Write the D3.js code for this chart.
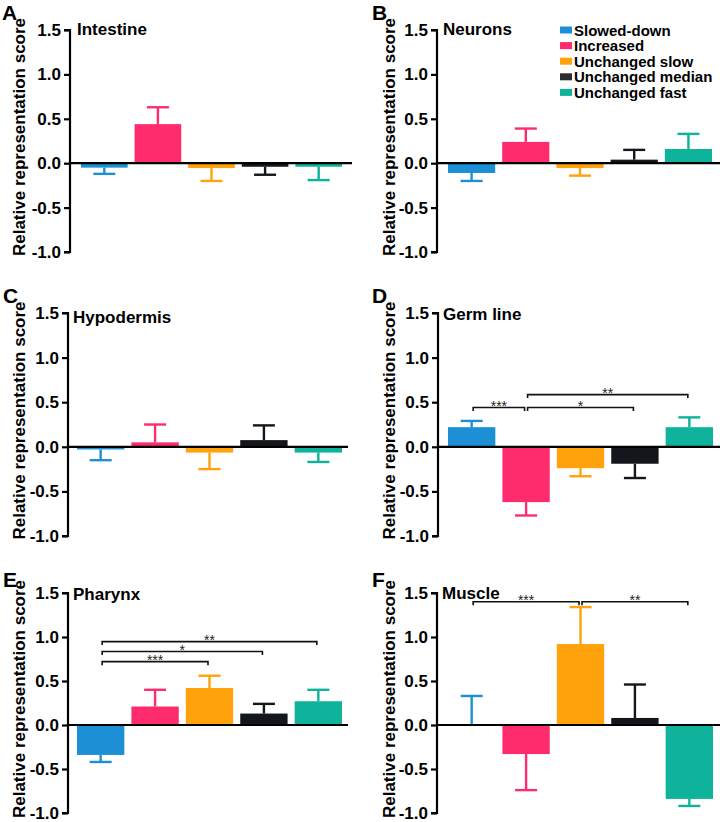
<!DOCTYPE html>
<html><head><meta charset="utf-8">
<script src="https://cdn.jsdelivr.net/npm/d3@7"></script>
<style>body{margin:0;background:#fff}svg{display:block}text{font-family:"Liberation Sans",Arial,Helvetica,sans-serif}</style>
</head><body>
<script>
const categories = ["Slowed-down","Increased","Unchanged slow","Unchanged median","Unchanged fast"];
const colors = ["#1c8fd5","#fe2c6c","#ffa20c","#13161b","#0fb39b"];
const legendColors = ["#1c8fd5","#fe2c6c","#ffa20c","#2a2c32","#0fb39b"];
const yTicks = [1.5, 1.0, 0.5, 0.0, -0.5, -1.0];
const panelLetters = ["A","B","C","D","E","F"];
const panelTitles = ["Intestine","Neurons","Hypodermis","Germ line","Pharynx","Muscle"];
const intestineValues = [-0.05, 0.44, -0.055, -0.04, -0.04];
const intestineErrors = [0.07, 0.19, 0.145, 0.09, 0.15];
const neuronsValues = [-0.11, 0.24, -0.055, 0.04, 0.16];
const neuronsErrors = [0.09, 0.15, 0.085, 0.11, 0.17];
const hypodermisValues = [-0.03, 0.05, -0.065, 0.075, -0.065];
const hypodermisErrors = [0.12, 0.20, 0.185, 0.165, 0.105];
const germLineValues = [0.22, -0.62, -0.24, -0.19, 0.22];
const germLineErrors = [0.07, 0.15, 0.09, 0.16, 0.11];
const pharynxValues = [-0.34, 0.21, 0.42, 0.13, 0.27];
const pharynxErrors = [0.08, 0.19, 0.14, 0.11, 0.13];
const muscleValues = [0.01, -0.33, 0.92, 0.08, -0.84];
const muscleErrors = [0.32, 0.41, 0.42, 0.38, 0.08];
const germLineSig = [{from:0,to:1,y:0.44,label:"***"},{from:1,to:3,y:0.44,label:"*"},{from:1,to:4,y:0.585,label:"**"}];
const pharynxSig = [{from:0,to:2,y:0.72,label:"***"},{from:0,to:3,y:0.835,label:"*"},{from:0,to:4,y:0.948,label:"**"}];
const muscleSig = [{from:0,to:2,y:1.40,label:"***"},{from:2,to:4,y:1.40,label:"**"}];

const panelValues = [intestineValues, neuronsValues, hypodermisValues, germLineValues, pharynxValues, muscleValues];
const panelErrors = [intestineErrors, neuronsErrors, hypodermisErrors, germLineErrors, pharynxErrors, muscleErrors];
const panelSig = [[], [], [], germLineSig, pharynxSig, muscleSig];

// layout (pixel geometry)
const layout = [
  {ax:70, top:30, bot:252, b0:81, b1:342, lineEnd:352, lx:2, ly:20, tx:77, ty:35, yt:25},
  {ax:437, top:30, bot:252, b0:448, b1:712, lineEnd:720, lx:372, ly:20, tx:443, ty:35, yt:395},
  {ax:68, top:313, bot:536, b0:77, b1:342, lineEnd:348, lx:3, ly:303, tx:73, ty:323, yt:25},
  {ax:438, top:313, bot:536, b0:448, b1:713, lineEnd:720, lx:372, ly:303, tx:443, ty:320, yt:395},
  {ax:68, top:593, bot:813, b0:77, b1:342, lineEnd:348, lx:3, ly:587, tx:73, ty:600, yt:25},
  {ax:437, top:593, bot:813, b0:448, b1:713, lineEnd:720, lx:372, ly:587, tx:442, ty:599, yt:395}
];

const svg = d3.select("body").append("svg").attr("width",720).attr("height",822);

layout.forEach((L, i) => {
  const g = svg.append("g");
  const y = d3.scaleLinear().domain([-1, 1.5]).range([L.bot, L.top]);
  const pi = 0.13;
  const step = (L.b1 - L.b0) / (5 - pi);
  const x = d3.scaleBand().domain(categories)
    .range([L.b0 - step*0.1, L.b1 + step*0.1]).paddingInner(pi).paddingOuter(0.1);
  const bw = x.bandwidth();
  const vals = panelValues[i], errs = panelErrors[i];

  // bars
  g.selectAll("rect.bar").data(categories).join("rect")
    .attr("x", c => x(c))
    .attr("width", bw)
    .attr("y", (c,k) => y(Math.max(0, vals[k])))
    .attr("height", (c,k) => Math.abs(y(vals[k]) - y(0)))
    .attr("fill", (c,k) => colors[k]);

  // error bars
  categories.forEach((c,k) => {
    const v = vals[k], e = errs[k];
    const end = v >= 0 ? v + e : v - e;
    const cx = x(c) + bw/2;
    g.append("line").attr("x1",cx).attr("x2",cx).attr("y1",y(v)).attr("y2",y(end))
      .attr("stroke",colors[k]).attr("stroke-width",2.4);
    g.append("line").attr("x1",cx-11).attr("x2",cx+11).attr("y1",y(end)).attr("y2",y(end))
      .attr("stroke",colors[k]).attr("stroke-width",2.4);
  });

  // zero line
  g.append("line").attr("x1",L.ax).attr("x2",L.lineEnd).attr("y1",y(0)).attr("y2",y(0))
    .attr("stroke","#000").attr("stroke-width",2.2);

  // y axis
  const axis = d3.axisLeft(y).tickValues(yTicks).tickSize(6).tickPadding(3)
    .tickFormat(d => d3.format(".1f")(d).replace("−","-"));
  const ag = g.append("g").attr("transform",`translate(${L.ax},0)`).call(axis);
  ag.select(".domain").attr("stroke","#000").attr("stroke-width",2.2)
    .attr("d", `M-6,${L.top}H0V${L.bot}H-6`);
  ag.selectAll(".tick line").attr("stroke","#000").attr("stroke-width",2.2);
  ag.selectAll(".tick text").attr("font-size",17).attr("font-weight","bold").attr("fill","#000")
    .attr("font-family",'"Liberation Sans",Arial,sans-serif');

  // y title
  g.append("text").attr("transform",`translate(${L.yt},${(L.top+L.bot)/2 - 4}) rotate(-90)`)
    .attr("text-anchor","middle").attr("font-size",17).attr("font-weight","bold")
    .text("Relative representation score");

  // panel letter
  g.append("text").attr("x",L.lx).attr("y",L.ly).attr("font-size",21).attr("font-weight","bold")
    .text(panelLetters[i]);
  // panel title
  g.append("text").attr("x",L.tx).attr("y",L.ty).attr("font-size",17).attr("font-weight","bold")
    .text(panelTitles[i]);

  // significance
  panelSig[i].forEach(s => {
    const x1 = x(categories[s.from]) + bw/2 + 1.5;
    const x2 = x(categories[s.to]) + bw/2 - 1.5;
    const yy = y(s.y);
    g.append("path").attr("d",`M${x1},${yy+3.5}V${yy}H${x2}V${yy+3.5}`)
      .attr("fill","none").attr("stroke","#111").attr("stroke-width",1.6);
    g.append("text").attr("x",(x1+x2)/2).attr("y",yy+3.5).attr("text-anchor","middle")
      .attr("font-size",14).attr("fill","#222").text(s.label);
  });
});

// legend
const lg = svg.append("g");
categories.forEach((c,k) => {
  const by = 35.5 + k*15.6;
  lg.append("rect").attr("x",560).attr("y",by-9).attr("width",12).attr("height",7).attr("fill",legendColors[k]);
  lg.append("text").attr("x",574).attr("y",by).attr("font-size",15).attr("font-weight","bold").attr("fill","#000").text(c);
});
</script>
</body></html>
